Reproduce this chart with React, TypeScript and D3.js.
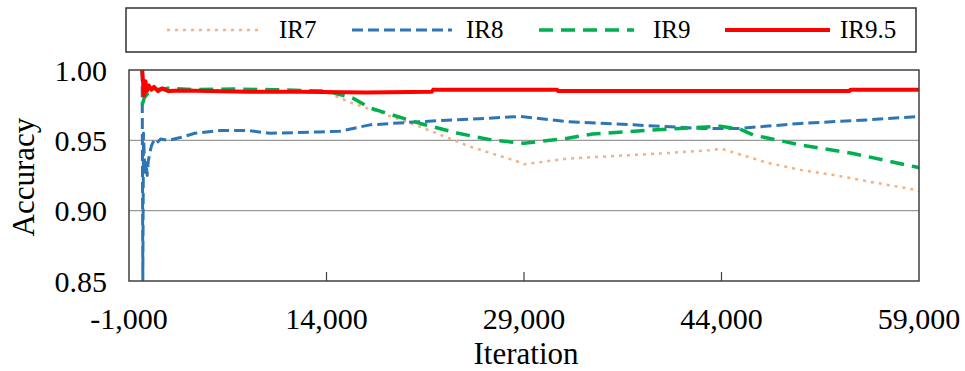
import React from "react";
import * as d3 from "d3";

const seriesNames = ["IR7", "IR8", "IR9", "IR9.5"];
const colors = ["#F4B183", "#2E75B6", "#00B050", "#FF0000"];

const ir7: [number, number][] = [
  [0, 0.98], [150, 0.984], [300, 0.986], [600, 0.987], [1000, 0.986], [2000, 0.9855], [3000, 0.985],
  [5000, 0.9855], [8000, 0.985], [12000, 0.9845], [14000, 0.984], [16000, 0.9763], [18000, 0.97],
  [21100, 0.9597], [24900, 0.9455], [28500, 0.935], [29000, 0.933], [32300, 0.937], [37300, 0.9396],
  [40000, 0.941], [43100, 0.943], [44000, 0.944], [47500, 0.934], [50000, 0.929], [52500, 0.9254],
  [55000, 0.921], [58800, 0.9147], [59000, 0.914],
];
const ir8: [number, number][] = [
  [0, 1.0], [50, 0.85], [100, 0.955], [150, 0.942], [220, 0.926], [300, 0.934], [380, 0.925],
  [460, 0.935], [560, 0.94], [700, 0.946], [900, 0.95], [1100, 0.948], [1400, 0.951], [2000, 0.95],
  [2900, 0.952], [4000, 0.955], [5900, 0.957], [8000, 0.957], [9700, 0.955], [13500, 0.956],
  [15000, 0.9565], [17300, 0.961], [21100, 0.9633], [24900, 0.965], [28700, 0.967], [32300, 0.9633],
  [37300, 0.961], [42400, 0.9585], [45400, 0.9585], [50000, 0.962], [55000, 0.9645], [59000, 0.967],
];
const ir9: [number, number][] = [
  [0, 0.975], [150, 0.98], [300, 0.982], [600, 0.985], [1000, 0.986], [2000, 0.987], [4000, 0.986],
  [7000, 0.9865], [10000, 0.986], [14000, 0.985], [16000, 0.98], [17300, 0.973], [21100, 0.962],
  [24000, 0.955], [26700, 0.95], [29000, 0.948], [32000, 0.951], [34200, 0.9545], [39900, 0.958],
  [43900, 0.96], [45400, 0.958], [46400, 0.9538], [50000, 0.9467], [53800, 0.941], [58800, 0.931],
  [59000, 0.9305],
];
const ir95: [number, number][] = [
  [0, 1.0], [80, 0.99], [150, 0.982], [250, 0.992], [350, 0.985], [500, 0.989], [700, 0.986],
  [900, 0.988], [1200, 0.985], [1500, 0.987], [2000, 0.985], [3000, 0.9855], [5000, 0.985],
  [8000, 0.9845], [12000, 0.9845], [17000, 0.984], [22000, 0.9845], [22100, 0.986], [31500, 0.986],
  [31600, 0.985], [53700, 0.985], [53800, 0.986], [59000, 0.986],
];
const seriesData = [ir7, ir8, ir9, ir95];

const xTicks = [-1000, 14000, 29000, 44000, 59000];
const yTicks = [0.85, 0.9, 0.95, 1.0];

const dashes = ["3 5", "11 5", "14 8", ""];
const widths = [2.5, 3, 3.5, 4];

export default function App() {
  const W = 965, H = 371;
  const left = 129, right = 919, top = 70, bottom = 281;
  const x = d3.scaleLinear().domain([-1000, 59000]).range([left, right]);
  const y = d3.scaleLinear().domain([0.85, 1.0]).range([bottom, top]);
  const line = d3.line<[number, number]>().x((d) => x(d[0])).y((d) => y(d[1]));
  const fmt = (v: number) => d3.format(",")(v).replace("\u2212", "-");
  const font = "'Liberation Serif', 'Times New Roman', serif";

  const legendLines = [
    [167, 263, 279],
    [352, 452, 466],
    [539, 634, 653],
    [725, 830, 840],
  ];

  return (
    <svg width={W} height={H} style={{ position: "absolute", left: 0, top: 0 }} fontFamily={font}>
      <rect x={0} y={0} width={W} height={H} fill="#fff" />
      <defs>
        <clipPath id="plotclip">
          <rect x={left} y={top - 2} width={right - left} height={bottom - top + 2} />
        </clipPath>
      </defs>
      {yTicks.slice(1, 3).map((t) => (
        <line key={t} x1={left} x2={right} y1={y(t)} y2={y(t)} stroke="#9a9a9a" strokeWidth={1.2} />
      ))}
      <g clipPath="url(#plotclip)">
        {seriesData.map((d, i) => (
          <path
            key={i}
            d={line(d) || ""}
            fill="none"
            stroke={colors[i]}
            strokeWidth={widths[i]}
            strokeDasharray={dashes[i] || undefined}
            strokeLinejoin="round"
          />
        ))}
      </g>
      <rect x={left} y={top} width={right - left} height={bottom - top} fill="none" stroke="#404040" strokeWidth={1.5} />
      {xTicks.slice(1, 4).map((t) => (
        <line key={t} x1={x(t)} x2={x(t)} y1={bottom} y2={bottom - 9} stroke="#404040" strokeWidth={1.2} />
      ))}
      {xTicks.map((t) => (
        <text key={t} x={x(t)} y={329} textAnchor="middle" fontSize={30} fill="#000">
          {fmt(t)}
        </text>
      ))}
      {yTicks.map((t) => (
        <text key={t} x={107} y={y(t) + 10.5} textAnchor="end" fontSize={30} fill="#000">
          {t.toFixed(2)}
        </text>
      ))}
      <text x={(left + right) / 2 + 2} y={364} textAnchor="middle" fontSize={31}>
        Iteration
      </text>
      <text transform={`translate(34,177) rotate(-90)`} textAnchor="middle" fontSize={31}>
        Accuracy
      </text>
      <rect x={126} y={8} width={790} height={44} fill="#fff" stroke="#303030" strokeWidth={1.5} />
      {seriesNames.map((n, i) => (
        <g key={n}>
          <line
            x1={legendLines[i][0]}
            x2={legendLines[i][1]}
            y1={30}
            y2={30}
            stroke={colors[i]}
            strokeWidth={widths[i]}
            strokeDasharray={dashes[i] || undefined}
          />
          <text x={legendLines[i][2]} y={37.5} fontSize={25} fill="#000">
            {n}
          </text>
        </g>
      ))}
    </svg>
  );
}
